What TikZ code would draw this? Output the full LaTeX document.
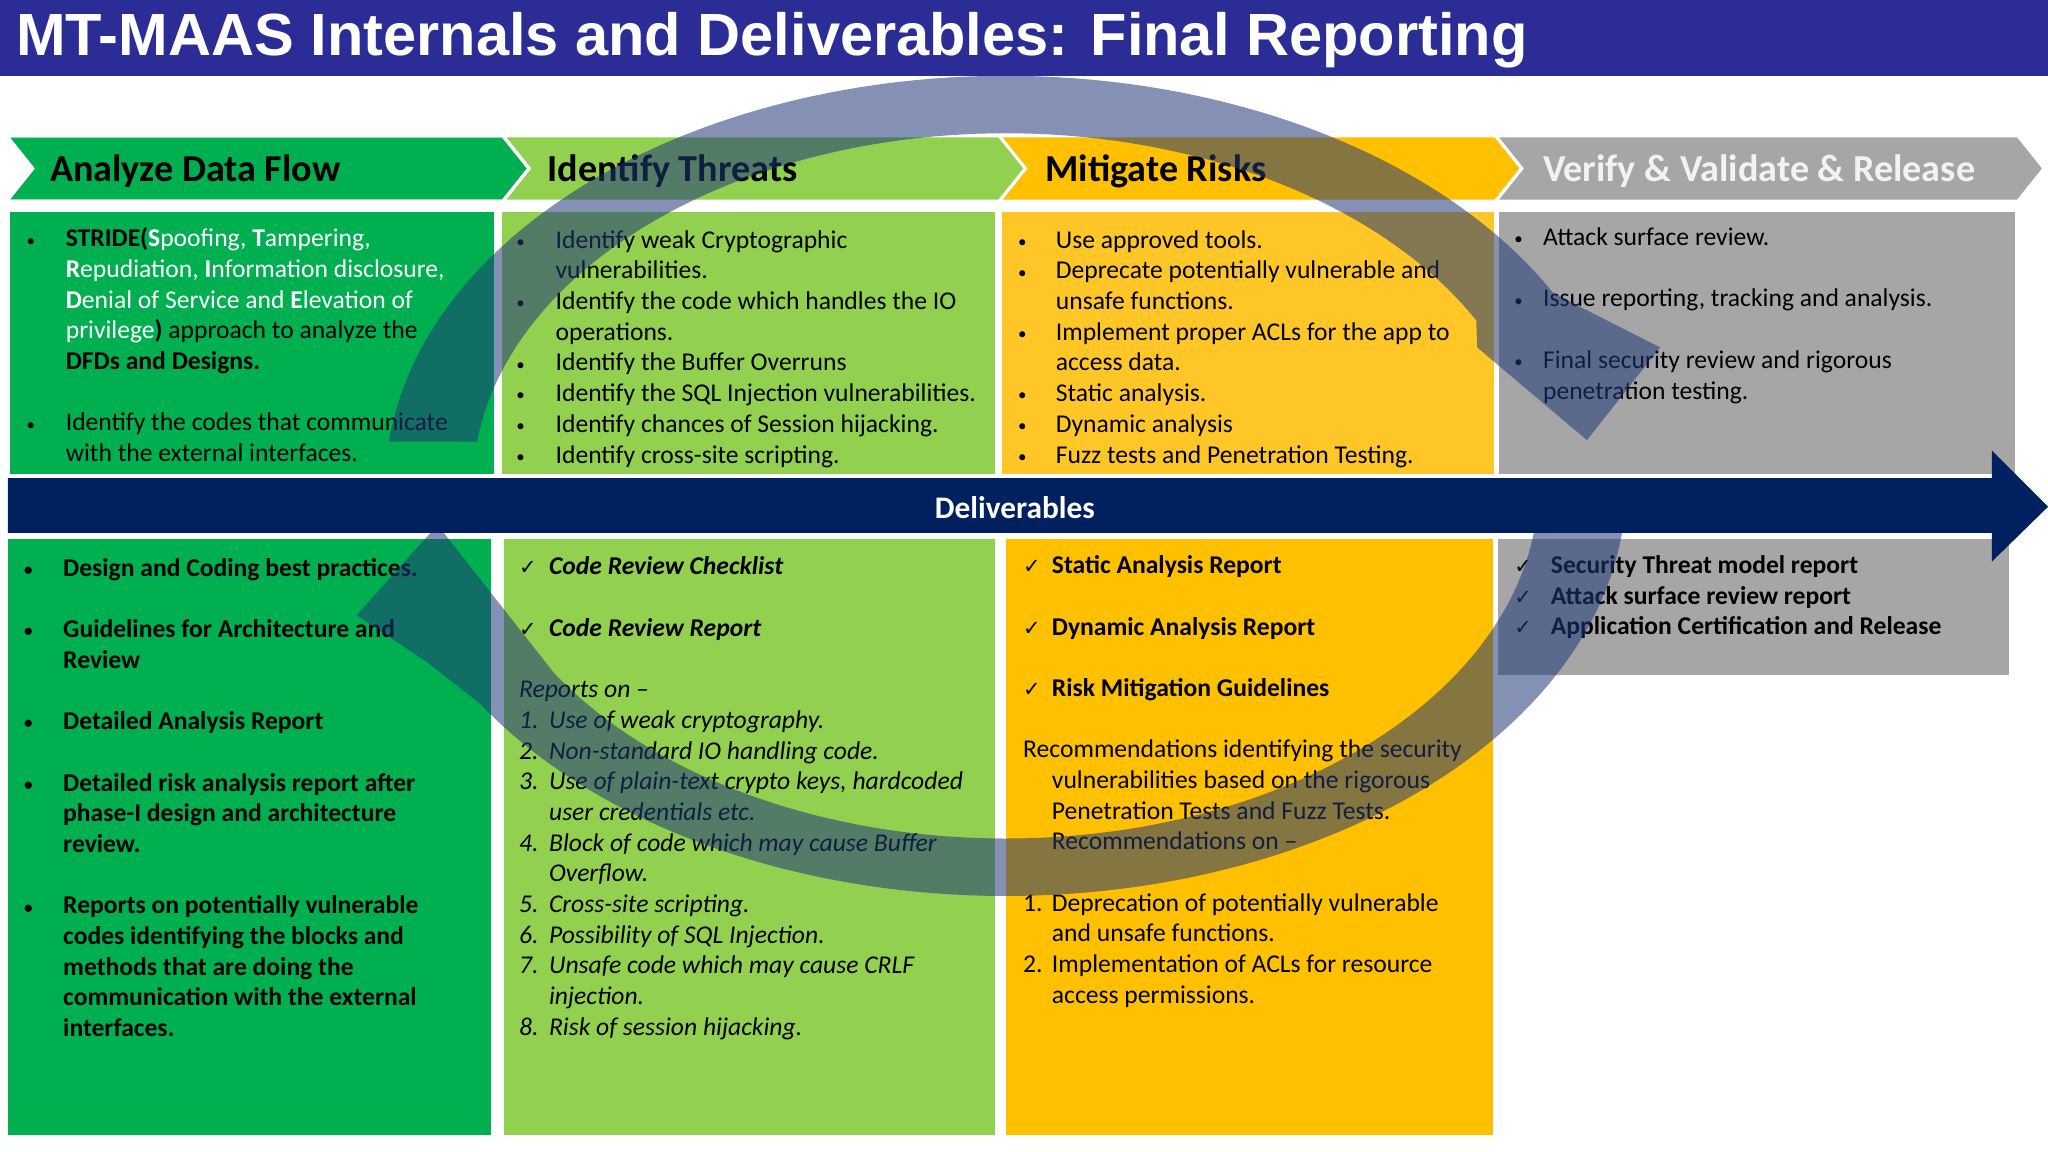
\documentclass[tikz,border=0pt]{standalone}
\usepackage{fontspec}
\setmainfont{Carlito}
\newfontfamily\titlefont{Liberation Sans}
\newfontfamily\dejavu{DejaVu Sans}
\definecolor{titlebg}{RGB}{44,44,150}
\definecolor{cgreen}{RGB}{0,176,80}
\definecolor{clgreen}{RGB}{146,208,80}
\definecolor{cyellow}{RGB}{255,192,0}
\definecolor{cyellowu}{RGB}{255,198,40}
\definecolor{cgray}{RGB}{166,166,166}
\definecolor{hdrgray}{RGB}{242,242,242}
\definecolor{navy}{RGB}{0,32,96}
\definecolor{ringc}{RGB}{31,56,120}
\newcommand\bodyfont{\fontsize{9.8}{11.75}\selectfont}
\newcommand\bu[2]{\makebox[#1][l]{\raisebox{0.3pt}{\fontsize{6.5}{6.5}\selectfont\textbullet}}#2}
\newcommand\ct[2]{\hspace*{#1}#2}
\newcommand\ck[2]{\makebox[#1][l]{{\dejavu\fontsize{8}{8}\selectfont ✓}}#2}
\newcommand\gp{\\[11.75pt]}
\tikzset{
  txt/.style={anchor=north west, inner sep=0pt, align=left, font=\bodyfont},
  hdr/.style={anchor=west, inner sep=0pt, font=\fontsize{14.6}{16}\selectfont\bfseries},
  chev/.style={draw=white, line width=1.2pt},
  ring/.style={fill=ringc, fill opacity=0.55},
}
\begin{document}
\begin{tikzpicture}[x=0.5pt,y=-0.5pt]
\useasboundingbox (0,0) rectangle (1568,882);
\fill[white] (0,0) rectangle (1568,882);
% title
\fill[titlebg] (0,0) rectangle (1568,58);
\node[anchor=west, inner sep=0pt, text=white, font=\titlefont\bfseries\fontsize{22.8}{24}\selectfont] (title) at (12,31) {MT-MAAS Internals and Deliverables: Final Reporting};
% chevrons
\fill[chev, fill=cgray] (1145,104) -- (1545,104) -- (1565,129) -- (1545,154) -- (1145,154) -- (1165,129) -- cycle;
\fill[chev, fill=cyellow] (765,104) -- (1145,104) -- (1165,129) -- (1145,154) -- (765,154) -- (785,129) -- cycle;
\fill[chev, fill=clgreen] (385,104) -- (765,104) -- (785,129) -- (765,154) -- (385,154) -- (405,129) -- cycle;
\fill[chev, fill=cgreen] (5,104) -- (385,104) -- (405,129) -- (385,154) -- (5,154) -- (25,129) -- cycle;
\draw[chev] (5,104) -- (385,104) -- (405,129) -- (385,154) -- (5,154) -- (25,129) -- cycle;
\node[hdr] (h1) at (38,131) {Analyze Data Flow};
\node[hdr] (h2) at (419,131) {Identify Threats};
\node[hdr] (h3) at (800,131) {Mitigate Risks};
\node[hdr, text=hdrgray] (h4) at (1181,131) {Verify \& Validate \& Release};
% upper boxes
\fill[cgreen] (8,162) rectangle (378,363);
\fill[clgreen] (384,162) rectangle (762,363);
\fill[cyellowu] (767,162) rectangle (1144,363);
\fill[cgray] (1148,162) rectangle (1543,363);
% lower boxes
\fill[cgreen] (6,413) rectangle (376,869);
\fill[clgreen] (386,413) rectangle (762,869);
\fill[cyellow] (770,413) rectangle (1143,869);
\fill[cgray] (1147,413) rectangle (1538,517);
% upper texts
\node[txt] (u1) at (20,174) {%
\bu{15pt}{\textbf{STRIDE(}\textcolor{white}{\textbf{S}poofing, \textbf{T}ampering,}}\\
\ct{15pt}{\textcolor{white}{\textbf{R}epudiation, \textbf{I}nformation disclosure,}}\\
\ct{15pt}{\textcolor{white}{\textbf{D}enial of Service and \textbf{E}levation of}}\\
\ct{15pt}{\textcolor{white}{privilege}\textbf{)} approach to analyze the}\\
\ct{15pt}{\textbf{DFDs and Designs.}}\gp
\bu{15pt}{Identify the codes that communicate}\\
\ct{15pt}{with the external interfaces.}};
\node[txt] (u2) at (395,176) {%
\bu{15pt}{Identify weak Cryptographic}\\
\ct{15pt}{vulnerabilities.}\\
\bu{15pt}{Identify the code which handles the IO}\\
\ct{15pt}{operations.}\\
\bu{15pt}{Identify the Buffer Overruns}\\
\bu{15pt}{Identify the SQL Injection vulnerabilities.}\\
\bu{15pt}{Identify chances of Session hijacking.}\\
\bu{15pt}{Identify cross-site scripting.}};
\node[txt] (u3) at (779,176) {%
\bu{14.5pt}{Use approved tools.}\\
\bu{14.5pt}{Deprecate potentially vulnerable and}\\
\ct{14.5pt}{unsafe functions.}\\
\bu{14.5pt}{Implement proper ACLs for the app to}\\
\ct{14.5pt}{access data.}\\
\bu{14.5pt}{Static analysis.}\\
\bu{14.5pt}{Dynamic analysis}\\
\bu{14.5pt}{Fuzz tests and Penetration Testing.}};
\node[txt] (u4) at (1159,174) {%
\bu{11pt}{Attack surface review.}\gp
\bu{11pt}{Issue reporting, tracking and analysis.}\gp
\bu{11pt}{Final security review and rigorous}\\
\ct{11pt}{penetration testing.}};
% lower texts
\node[txt, font=\bodyfont\bfseries] (l1) at (18,427) {%
\bu{15pt}{Design and Coding best practices.}\gp
\bu{15pt}{Guidelines for Architecture and}\\
\ct{15pt}{Review}\gp
\bu{15pt}{Detailed Analysis Report}\gp
\bu{15pt}{Detailed risk analysis report after}\\
\ct{15pt}{phase-I design and architecture}\\
\ct{15pt}{review.}\gp
\bu{15pt}{Reports on potentially vulnerable}\\
\ct{15pt}{codes identifying the blocks and}\\
\ct{15pt}{methods that are doing the}\\
\ct{15pt}{communication with the external}\\
\ct{15pt}{interfaces.}};
\node[txt, font=\bodyfont\itshape] (l2) at (397,426) {%
\ck{11.5pt}{\textbf{Code Review Checklist}}\gp
\ck{11.5pt}{\textbf{Code Review Report}}\gp
Reports on --\\
\makebox[11.5pt][l]{1.}Use of weak cryptography.\\
\makebox[11.5pt][l]{2.}Non-standard IO handling code.\\
\makebox[11.5pt][l]{3.}Use of plain-text crypto keys, hardcoded\\
\ct{11.5pt}{user credentials etc.}\\
\makebox[11.5pt][l]{4.}Block of code which may cause Buffer\\
\ct{11.5pt}{Overflow.}\\
\makebox[11.5pt][l]{5.}Cross-site scripting.\\
\makebox[11.5pt][l]{6.}Possibility of SQL Injection.\\
\makebox[11.5pt][l]{7.}Unsafe code which may cause CRLF\\
\ct{11.5pt}{injection.}\\
\makebox[11.5pt][l]{8.}Risk of session hijacking.};
\node[txt] (l3) at (783,425) {%
\ck{11pt}{\textbf{Static Analysis Report}}\gp
\ck{11pt}{\textbf{Dynamic Analysis Report}}\gp
\ck{11pt}{\textbf{Risk Mitigation Guidelines}}\gp
Recommendations identifying the security\\
\ct{11pt}{vulnerabilities based on the rigorous}\\
\ct{11pt}{Penetration Tests and Fuzz Tests.}\\
\ct{11pt}{Recommendations on --}\gp
\makebox[11pt][l]{1.}Deprecation of potentially vulnerable\\
\ct{11pt}{and unsafe functions.}\\
\makebox[11pt][l]{2.}Implementation of ACLs for resource\\
\ct{11pt}{access permissions.}};
\node[txt, font=\bodyfont\bfseries] (l4) at (1159,425) {%
\ck{14pt}{Security Threat model report}\\
\ck{14pt}{Attack surface review report}\\
\ck{14pt}{Application Certification and Release}};
% ring arrows
\fill[ring] plot[domain=-173.8:-28,samples=90] ({770+475*cos(\x)},{372+314*sin(\x)})
  -- (1271,266) -- (1215,337) -- (1131,266)
  -- plot[domain=-28:-172.8,samples=90] ({770+408*cos(\x)},{372+270*sin(\x)}) -- cycle;
\fill[ring] plot[domain=5:148,samples=90] ({770+475*cos(\x)},{372+314*sin(\x)})
  -- (327,507) -- (273,471) -- (335,402)
  -- plot[domain=148:5,samples=90] ({770+408*cos(\x)},{372+270*sin(\x)}) -- cycle;
% deliverables arrow
\fill[navy] (6,366) -- (1525,366) -- (1525,345) -- (1568,388) -- (1525,430) -- (1525,408) -- (6,408) -- cycle;
\node[text=white, font=\fontsize{12}{14}\selectfont\bfseries] (deliv) at (777,389) {Deliverables};
\end{tikzpicture}
\end{document}
